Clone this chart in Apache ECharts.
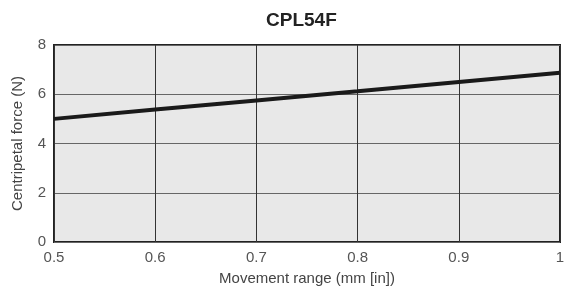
<!DOCTYPE html>
<html>
<head>
<meta charset="utf-8">
<script src="https://cdn.jsdelivr.net/npm/echarts@6/dist/echarts.min.js"></script>
<style>
  html, body { margin: 0; padding: 0; background: #fff; }
  #chart { width: 565px; height: 288px; }
</style>
</head>
<body>
<div id="chart"></div>
<script>
// values
var movement = [0.5, 0.6, 0.7, 0.8, 0.9, 1.0];
var force = [5.0, 5.38, 5.75, 6.12, 6.5, 6.87];

var chart = echarts.init(document.getElementById('chart'));
var font = 'Liberation Sans, Arial, sans-serif';

chart.setOption({
  animation: false,
  title: {
    text: 'CPL54F',
    left: 261,
    top: 6,
    textStyle: { fontFamily: font, fontSize: 19, fontWeight: 'bold', color: '#222' }
  },
  grid: {
    left: 54, right: 5, top: 45, bottom: 46,
    outerBoundsMode: 'none',
    show: true,
    backgroundColor: '#e8e8e8',
    borderColor: '#222',
    borderWidth: 2
  },
  xAxis: {
    type: 'value',
    min: 0.5, max: 1, interval: 0.1,
    name: 'Movement range (mm [in])',
    nameLocation: 'middle',
    nameGap: 29,
    nameTextStyle: { fontFamily: font, fontSize: 15, color: '#444' },
    axisLine: { show: false },
    axisTick: { show: false },
    axisLabel: {
      fontFamily: font, fontSize: 15, color: '#555', margin: 8,
      formatter: function (v) { return v === 1 ? '1' : v.toFixed(1); }
    },
    splitLine: { show: true, lineStyle: { color: '#333', width: 1 } }
  },
  yAxis: {
    type: 'value',
    min: 0, max: 8, interval: 2,
    name: 'Centripetal force (N)',
    nameLocation: 'middle',
    nameGap: 29,
    nameTextStyle: { fontFamily: font, fontSize: 15, color: '#444' },
    axisLine: { show: false },
    axisTick: { show: false },
    axisLabel: { fontFamily: font, fontSize: 15, color: '#555', margin: 8 },
    splitLine: { show: true, lineStyle: { color: '#666', width: 1 } }
  },
  series: [{
    type: 'line',
    data: movement.map(function (x, i) { return [x, force[i]]; }),
    symbol: 'none',
    lineStyle: { color: '#1a1a1a', width: 4 }
  }]
});
</script>
</body>
</html>
